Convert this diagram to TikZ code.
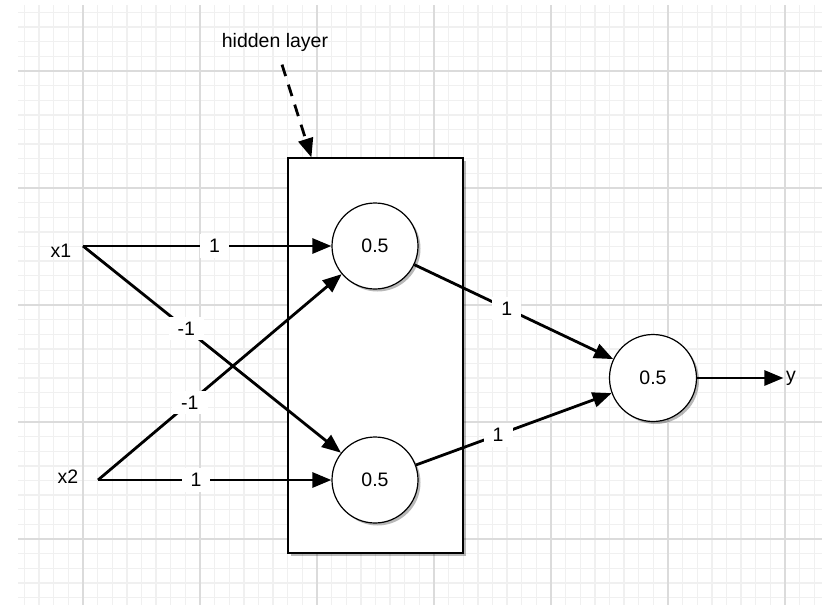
\documentclass[tikz,border=0pt]{standalone}
\usepackage{fontspec}
\setmainfont{Liberation Sans}
\usetikzlibrary{arrows.meta,shadows}
\begin{document}
\begin{tikzpicture}[x=1pt,y=-1pt,
  font=\fontsize{19.5}{23}\selectfont,
  minorgrid/.style={draw=black!6, line width=1.4pt},
  majorgrid/.style={draw=black!14, line width=1.4pt},
  shade3/.style={drop shadow={shadow xshift=2.5pt,shadow yshift=-2.5pt,opacity=0.28,fill=black}},
  neuron/.style={circle,draw=black,line width=1.2pt,fill=white,minimum size=86pt,inner sep=0pt,shade3},
  layerbox/.style={rectangle,draw=black,line width=1.2pt,fill=white,minimum width=175pt,minimum height=395pt,inner sep=0pt,shade3},
  conn/.style={line width=2.8pt,-{Triangle[length=19pt,width=15pt]}},
  dasharrow/.style={line width=2.8pt,dash pattern=on 12pt off 9pt,-{Triangle[length=19pt,width=15pt]}},
  weight/.style={fill=white,inner xsep=9pt,inner ysep=5pt},
  plain/.style={inner sep=0pt}
]
\useasboundingbox (0,0) rectangle (822,605);
\fill[white] (0,0) rectangle (822,605);
% grid
\foreach \i in {0,...,54} {
  \pgfmathsetmacro\gx{24.5+14.625*\i}
  \draw[minorgrid] (\gx,5) -- (\gx,605);
}
\foreach \j in {0,...,40} {
  \pgfmathsetmacro\gy{12.5+14.625*\j}
  \draw[minorgrid] (18,\gy) -- (822,\gy);
}
\foreach \k in {0,...,6} {
  \pgfmathsetmacro\gx{83+117*\k}
  \draw[majorgrid] (\gx,5) -- (\gx,605);
}
\foreach \k in {0,...,4} {
  \pgfmathsetmacro\gy{71+117*\k}
  \draw[majorgrid] (18,\gy) -- (822,\gy);
}
% hidden layer box
\node[layerbox] (box) at (375.5,355.5) {};
\node[neuron] (c1) at (375,246) {0.5};
\node[neuron] (c2) at (375,480) {0.5};
\node[neuron,minimum size=87pt] (c3) at (653,378) {0.5};
% labels
\node[plain] (x1) at (61,251) {x1};
\node[plain] (x2) at (68,477) {x2};
\node[inner sep=2.5pt] (y) at (791,378) {y};
\node (hl) at (275,42) {hidden layer};
\coordinate (x1o) at (83,246);
\coordinate (x2o) at (98,480);
% connectors
\draw[conn] (x1o) -- node[weight,pos=0.53] {1} (c1);
\draw[conn] (x1o) -- node[weight,pos=0.40] {-1} (c2);
\draw[conn] (x2o) -- node[weight,pos=0.377] {-1} (c1);
\draw[conn] (x2o) -- node[weight,pos=0.42] {1} (c2);
\draw[conn] (c1) -- node[weight,pos=0.465] {1} (c3);
\draw[conn] (c2) -- node[weight,pos=0.42] {1} (c3);
\draw[conn] (c3) -- (y);
\draw[dasharrow] ([shift={(7,10)}]hl.south) -- ([xshift=24pt]box.north west);
\end{tikzpicture}
\end{document}
